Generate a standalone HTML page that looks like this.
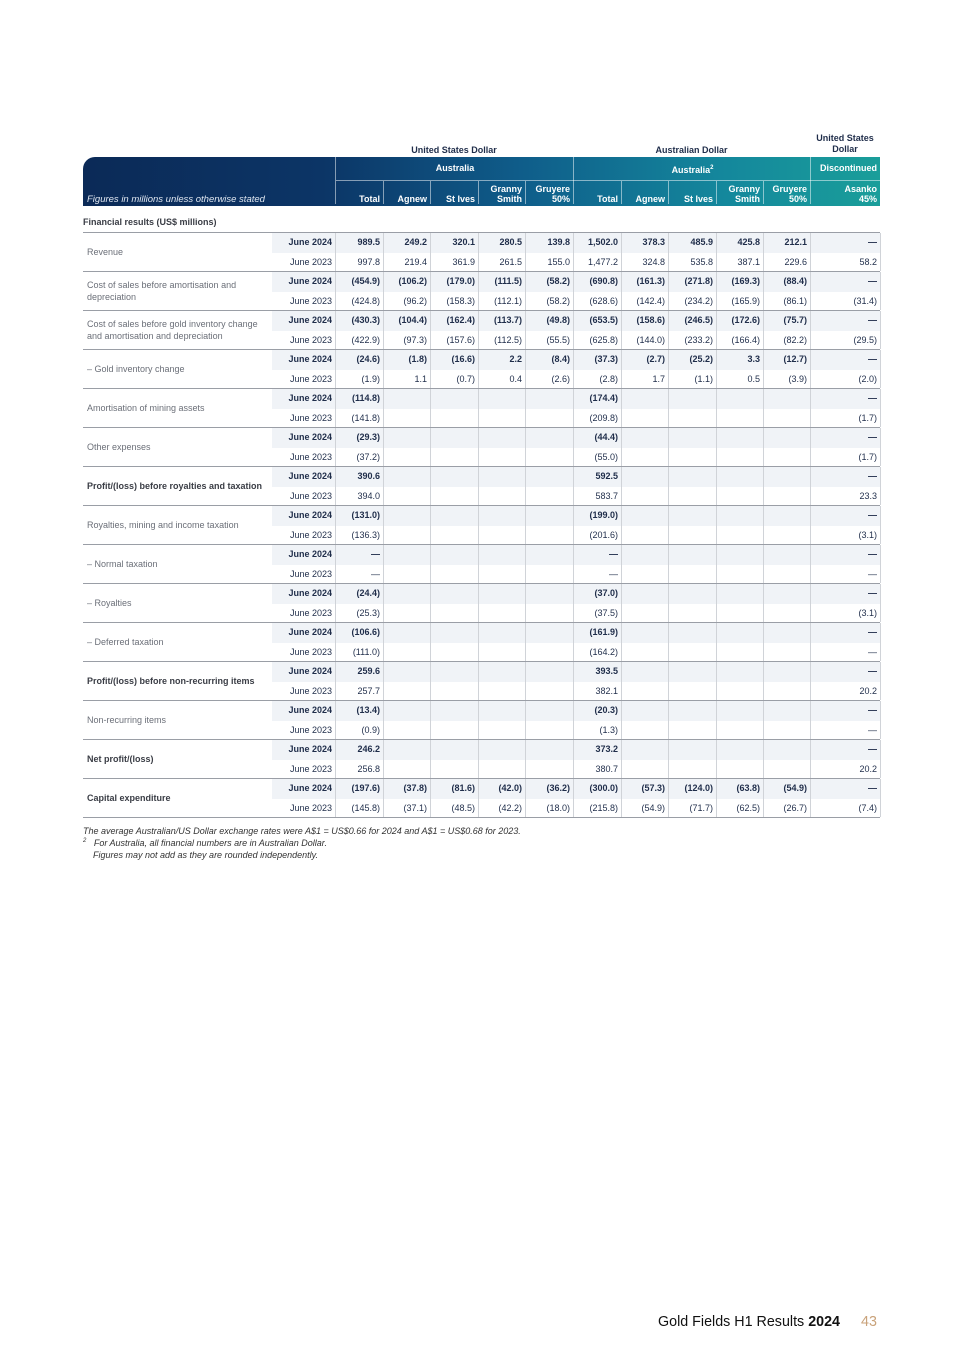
<!DOCTYPE html>
<html><head><meta charset="utf-8">
<style>
body{margin:0;background:#fff;font-family:"Liberation Sans",sans-serif;}
#page{position:relative;width:964px;height:1365px;overflow:hidden;}
.a{position:absolute;white-space:nowrap;}
.hd{color:#fff;font-weight:bold;font-size:9px;text-align:right;line-height:10px;}
.c{font-size:9px;color:#1f2d4a;text-align:right;}
.b{font-weight:bold;}
.lab{font-size:9px;color:#6b6f78;line-height:11.5px;white-space:normal;}
.foot{font-size:9px;font-style:italic;color:#333;}
</style></head><body>
<div id="page">
<div class="a" style="left:335px;top:145px;width:238px;text-align:center;font-size:9px;font-weight:bold;color:#1f2d4a">United States Dollar</div>
<div class="a" style="left:573px;top:145px;width:237px;text-align:center;font-size:9px;font-weight:bold;color:#1f2d4a">Australian Dollar</div>
<div class="a" style="left:810px;top:133px;width:70px;text-align:center;font-size:9px;font-weight:bold;color:#1f2d4a;line-height:11px;white-space:normal">United States Dollar</div>
<div class="a" id="hdr" style="left:83px;top:157px;width:797px;height:49px;background:linear-gradient(90deg,#0b2a57 0%,#0c3566 30%,#0f5d8a 55%,#14879c 80%,#1a9e9a 100%);border-top-left-radius:12px"></div>
<div class="a" style="left:87px;top:194px;font-size:9.5px;font-style:italic;color:#dfe6f0">Figures in millions unless otherwise stated</div>
<div class="a" style="left:83px;top:217px;font-size:9px;font-weight:bold;color:#3a3d45">Financial results (US$ millions)</div>
<div class="a foot" style="left:83px;top:826px">The average Australian/US Dollar exchange rates were A$1 = US$0.66 for 2024 and A$1 = US$0.68 for 2023.</div>
<div class="a foot" style="left:83px;top:838px"><sup style="font-size:6px">2</sup>&nbsp;&nbsp; For Australia, all financial numbers are in Australian Dollar.</div>
<div class="a foot" style="left:93px;top:850px">Figures may not add as they are rounded independently.</div>
<div class="a" style="left:658px;top:1314px;font-size:14.3px;color:#111">Gold Fields H1 Results <b>2024</b></div>
<div class="a" style="left:861px;top:1314px;font-size:14.3px;color:#c9a27a">43</div>
</div>
<script>
const colEdges=[335,383,430,478,525,573,621,668,716,763,810,880];
const colHeads=["Total","Agnew","St Ives","Granny<br>Smith","Gruyere<br>50%","Total","Agnew","St Ives","Granny<br>Smith","Gruyere<br>50%","Asanko<br>45%"];
const labels=["Revenue","Cost of sales before amortisation and depreciation","Cost of sales before gold inventory change and amortisation and depreciation","– Gold inventory change","Amortisation of mining assets","Other expenses","Profit/(loss) before royalties and taxation","Royalties, mining and income taxation","– Normal taxation","– Royalties","– Deferred taxation","Profit/(loss) before non-recurring items","Non-recurring items","Net profit/(loss)","Capital expenditure"];
const boldLabels=[6,11,13,14];
const v2024=[
["989.5","249.2","320.1","280.5","139.8","1,502.0","378.3","485.9","425.8","212.1","—"],
["(454.9)","(106.2)","(179.0)","(111.5)","(58.2)","(690.8)","(161.3)","(271.8)","(169.3)","(88.4)","—"],
["(430.3)","(104.4)","(162.4)","(113.7)","(49.8)","(653.5)","(158.6)","(246.5)","(172.6)","(75.7)","—"],
["(24.6)","(1.8)","(16.6)","2.2","(8.4)","(37.3)","(2.7)","(25.2)","3.3","(12.7)","—"],
["(114.8)","","","","","(174.4)","","","","","—"],
["(29.3)","","","","","(44.4)","","","","","—"],
["390.6","","","","","592.5","","","","","—"],
["(131.0)","","","","","(199.0)","","","","","—"],
["—","","","","","—","","","","","—"],
["(24.4)","","","","","(37.0)","","","","","—"],
["(106.6)","","","","","(161.9)","","","","","—"],
["259.6","","","","","393.5","","","","","—"],
["(13.4)","","","","","(20.3)","","","","","—"],
["246.2","","","","","373.2","","","","","—"],
["(197.6)","(37.8)","(81.6)","(42.0)","(36.2)","(300.0)","(57.3)","(124.0)","(63.8)","(54.9)","—"]];
const v2023=[
["997.8","219.4","361.9","261.5","155.0","1,477.2","324.8","535.8","387.1","229.6","58.2"],
["(424.8)","(96.2)","(158.3)","(112.1)","(58.2)","(628.6)","(142.4)","(234.2)","(165.9)","(86.1)","(31.4)"],
["(422.9)","(97.3)","(157.6)","(112.5)","(55.5)","(625.8)","(144.0)","(233.2)","(166.4)","(82.2)","(29.5)"],
["(1.9)","1.1","(0.7)","0.4","(2.6)","(2.8)","1.7","(1.1)","0.5","(3.9)","(2.0)"],
["(141.8)","","","","","(209.8)","","","","","(1.7)"],
["(37.2)","","","","","(55.0)","","","","","(1.7)"],
["394.0","","","","","583.7","","","","","23.3"],
["(136.3)","","","","","(201.6)","","","","","(3.1)"],
["—","","","","","—","","","","","—"],
["(25.3)","","","","","(37.5)","","","","","(3.1)"],
["(111.0)","","","","","(164.2)","","","","","—"],
["257.7","","","","","382.1","","","","","20.2"],
["(0.9)","","","","","(1.3)","","","","","—"],
["256.8","","","","","380.7","","","","","20.2"],
["(145.8)","(37.1)","(48.5)","(42.2)","(18.0)","(215.8)","(54.9)","(71.7)","(62.5)","(26.7)","(7.4)"]];
const P=document.getElementById('page');
function mk(cls,st,html){const d=document.createElement('div');d.className='a '+cls;d.style.cssText=st;d.innerHTML=html;P.appendChild(d);return d;}
let e=mk('hd','left:335px;top:157px;width:238px;height:23px;line-height:23px;text-align:center;border-left:1px solid rgba(255,255,255,.5);border-bottom:1px solid rgba(255,255,255,.5)','Australia');


e=mk('hd','left:573px;top:157px;width:237px;height:23px;line-height:23px;text-align:center;border-left:1px solid rgba(255,255,255,.5);border-bottom:1px solid rgba(255,255,255,.5)','Australia<sup style="font-size:6px">2</sup>');


e=mk('hd','left:810px;top:157px;width:66px;height:23px;line-height:23px;padding-right:4px;border-left:1px solid rgba(255,255,255,.5);border-bottom:1px solid rgba(255,255,255,.5)','Discontinued');


for(let i=0;i<colHeads.length;i++){
 const x=colEdges[i],w=colEdges[i+1]-x;
 const h=mk('hd',`left:${x}px;top:181px;width:${w-4}px;height:23px;padding-right:3px;border-left:1px solid rgba(255,255,255,.5);display:flex;align-items:flex-end;justify-content:flex-end;text-align:right`,'<span>'+colHeads[i]+'</span>');
 
 
}
const top0=233,gh=39,rh=19.5;
for(let g=0;g<labels.length;g++){
 const y=top0+g*gh;
 const ln=mk('',`left:83px;top:${y-1}px;width:797px;height:1px;background:#9a9ea6`,'');
 
 
 const bg=mk('',`left:272px;top:${y}px;width:608px;height:${rh}px;background:#f0f3f7`,'');
 
 
 const lb=mk('lab'+(boldLabels.includes(g)?' b':''),`left:87px;top:${y}px;width:188px;height:${gh}px;display:flex;align-items:center;${boldLabels.includes(g)?'color:#3a3d45;':''}`,'<span>'+labels[g]+'</span>');
 
 
 const d1=mk('c b',`left:272px;top:${y+4}px;width:60px`,'June 2024');
 
 
 const d2=mk('c',`left:272px;top:${y+rh+4}px;width:60px`,'June 2023');
 
 
 for(let i=0;i<11;i++){
  const x=colEdges[i],w=colEdges[i+1]-x;
  const vl=mk('',`left:${x}px;top:${y}px;width:1px;height:${gh-1}px;background:#d0d3d8`,'');
  
  
  const c1=mk('c b',`left:${x}px;top:${y+4}px;width:${w-3}px`,v2024[g][i]);
  
  
  const c2=mk('c',`left:${x}px;top:${y+rh+4}px;width:${w-3}px`,v2023[g][i]);
  
  
 }
 const rl=mk('',`left:880px;top:${y}px;width:1px;height:${gh-1}px;background:#d0d3d8`,'');
 
 
}
const bl=mk('',`left:83px;top:${top0+labels.length*gh-1}px;width:797px;height:1px;background:#9a9ea6`,'');


</script>
</body></html>
